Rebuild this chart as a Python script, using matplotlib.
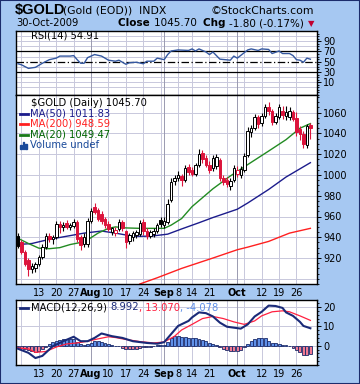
import matplotlib
matplotlib.use("Agg")
import matplotlib.pyplot as plt
import numpy as np
import pandas as pd
from matplotlib.lines import Line2D
from matplotlib.patches import Rectangle

W, H = 360, 384

# ---------------- data ----------------
dates = [d for d in pd.bdate_range("2009-07-02", "2009-10-30")
         if d.strftime("%Y-%m-%d") not in ("2009-07-03", "2009-09-07")]

opens = [941, 935, 926, 918, 909, 910, 914, 921, 931, 941, 938, 940, 953, 950, 954, 950, 951, 955, 940, 934,
         934, 956, 969, 966, 962, 958, 953, 945, 944, 948, 955, 946, 936, 940, 942, 943, 955, 946, 941, 943,
         946, 957, 952, 955, 976, 994, 997, 999, 995, 1008, 1005, 1001, 1010, 1021, 1016, 1010, 1007, 1009, 1014, 997,
         995, 989, 995, 1001, 1000, 1005, 1019, 1041, 1045, 1056, 1050, 1057, 1065, 1062, 1051, 1056, 1062, 1057, 1056, 1061,
         1055, 1044, 1039, 1029, 1048]
highs = [944, 937, 928, 920, 915, 916, 923, 934, 944, 944, 942, 956, 956, 955, 957, 954, 958, 957, 942, 944,
         959, 968, 973, 968, 965, 960, 956, 950, 950, 958, 957, 947, 944, 946, 947, 957, 958, 949, 947, 949,
         954, 960, 960, 977, 997, 1000, 1004, 1001, 1010, 1011, 1008, 1012, 1025, 1024, 1019, 1013, 1019, 1020, 1016, 1000,
         998, 997, 1010, 1009, 1009, 1021, 1046, 1048, 1059, 1058, 1060, 1068, 1070, 1064, 1060, 1068, 1066, 1066, 1065, 1063,
         1061, 1047, 1042, 1049, 1050]
lows = [930, 924, 912, 903, 906, 907, 912, 919, 929, 935, 934, 938, 944, 946, 948, 947, 949, 935, 928, 931,
        931, 954, 962, 956, 953, 949, 946, 942, 941, 946, 946, 930, 934, 936, 939, 941, 942, 938, 939, 940,
        944, 950, 949, 953, 974, 990, 994, 989, 993, 1000, 999, 999, 1008, 1012, 1008, 1002, 1004, 1006, 994, 990,
        988, 986, 993, 998, 997, 1003, 1017, 1037, 1043, 1045, 1047, 1055, 1058, 1048, 1049, 1054, 1054, 1053, 1053, 1052,
        1038, 1034, 1026, 1026, 1035]
closes = [932, 926, 914, 909, 912, 914, 921, 931, 941, 938, 940, 953, 950, 952, 950, 952, 955, 938, 933, 940,
          956, 965, 964, 958, 956, 952, 948, 949, 947, 955, 949, 935, 942, 944, 945, 954, 946, 941, 945, 946,
          952, 953, 956, 972, 993, 997, 1000, 995, 1007, 1003, 1001, 1010, 1020, 1015, 1010, 1005, 1016, 1017, 997, 993,
          991, 994, 1007, 1005, 1006, 1018, 1042, 1045, 1056, 1049, 1057, 1065, 1062, 1051, 1057, 1065, 1058, 1061, 1062, 1054,
          1041, 1039, 1030, 1047.5, 1045.7]

ma20_days = [0, 3, 6, 9, 12, 15, 18, 20, 23, 26, 28, 31, 35, 39, 42, 44, 47, 50, 56, 61, 66, 72, 77, 81, 84]
ma20_vals = [939, 934, 929.5, 929, 930, 933, 935, 937.5, 944, 948.6, 950, 949, 948.6, 948.6, 948.6, 951.7, 958,
             969.5, 986.7, 999, 1010, 1023, 1034, 1045, 1049.47]
ma50_days = [0, 4, 9, 14, 19, 24, 28, 33, 38, 43, 47, 52, 56, 63, 66, 72, 77, 84]
ma50_vals = [933, 934, 938, 941, 944, 946, 944, 941, 941, 943, 948, 954, 959, 967, 973, 986, 998, 1011.83]
ma200_days = [35, 40, 47, 56, 63, 66, 72, 78, 84]
ma200_vals = [895, 901, 910, 920, 928, 930.5, 936, 944, 948.59]

rsi_days = [0, 1, 3, 5, 7, 9, 11, 12, 15, 16, 17, 18, 19, 20, 22, 24, 26, 28, 29, 31, 32, 34, 36, 37, 39, 40, 42, 43,
            44, 46, 49, 50, 51, 52, 54, 55, 56, 58, 61, 62, 63, 66, 67, 69, 70, 72, 73, 75, 76, 78, 79, 80, 81, 82, 83, 84]
rsi_vals = [46, 44, 37, 39, 47, 54, 57, 61, 61, 62, 54, 47, 47, 58, 64, 61, 53, 51, 53, 45, 48, 49, 46, 51, 51, 57, 54,
            64, 71, 73, 72, 75, 71, 75, 69, 64, 69, 55, 53, 61, 57, 73, 75, 72, 75, 74, 66, 71, 66, 66, 62, 54, 53, 49, 57, 54.91]

macd_days = [0, 3, 5, 7, 10, 13, 16, 18, 20, 22, 24, 27, 30, 33, 37, 40, 42, 44, 46, 49, 50, 52, 54, 56, 58, 60, 62,
             64, 66, 68, 70, 72, 74, 76, 77, 79, 81, 82, 84]
macd_vals = [-1.6, -3.7, -6.4, -5.3, -0.3, 2.3, 4.6, 2.3, 2.3, 4.0, 6.3, 4.9, 4.0, 2.3, 1.4, 1.0, 1.8, 6.0, 10.2, 12.8,
             14.6, 17.2, 16.8, 15.1, 11.9, 9.8, 9.3, 8.8, 11.0, 15.1, 17.5, 20.7, 20.5, 19.5, 17.2, 15.4, 12.3, 10.2, 8.992]
signal_days = [0, 3, 5, 8, 11, 14, 17, 20, 23, 26, 28, 31, 35, 39, 42, 45, 47, 50, 53, 56, 59, 62, 65, 68, 70, 73,
               76, 78, 81, 84]
signal_vals = [-1.2, -1.7, -3.5, -3.0, -0.7, 0.9, 1.4, 2.3, 3.5, 4.6, 4.2, 3.2, 2.1, 1.4, 1.9, 4.9, 8.1, 11.0, 14.0,
               15.1, 14.0, 12.3, 11.0, 12.8, 15.4, 17.5, 18.0, 17.5, 15.4, 13.07]
hist_vals = [-0.5, -1.2, -1.8, -2.5, -3.0, -3.2, -2.6, -1.5, -0.5, 0.8, 1.8, 2.6, 3.1, 3.4, 3.5, 3.4, 3.2, 2.0, 0.8, 0.4,
             0.9, 1.6, 2.2, 2.3, 1.9, 1.2, 0.6, 0.2, -0.3, -0.4, -1.0, -1.6, -1.7, -1.5, -1.5, -1.0, -0.6, -0.8, -0.5, -0.2,
             0.2, 0.1, 0.4, 1.8, 3.8, 5.2, 5.0, 4.6, 4.3, 4.1, 4.0, 3.9, 3.6, 2.9, 2.2, 1.5, 1.0, 0.2, -0.8, -1.8,
             -2.5, -3.0, -2.9, -2.8, -2.0, -0.8, 1.0, 2.3, 3.3, 3.8, 3.9, 3.7, 2.6, 1.5, 1.2, 0.8, 0.4, 0.1, -0.4, -1.0,
             -2.3, -3.3, -4.6, -4.8, -4.1]

tick_dates = ["2009-07-13", "2009-07-20", "2009-07-27", "2009-08-03", "2009-08-10", "2009-08-17", "2009-08-24",
              "2009-09-01", "2009-09-08", "2009-09-14", "2009-09-21", "2009-10-01", "2009-10-12", "2009-10-19",
              "2009-10-26"]
tick_labels = ["13", "20", "27", "Aug", "10", "17", "24", "Sep", "8", "14", "21", "Oct", "12", "19", "26"]
month_labels = ["Aug", "Sep", "Oct"]
extra_grid_dates = ["2009-07-06", "2009-08-31", "2009-09-28", "2009-10-05"]

# ---------------- style ----------------
BG = "#a6c8f2"
GRID = "#c8c8dc"
MGRID = "#9a9ab0"
RED = "#dc143c"
NAVY = "#1c1c8c"

date_str = [d.strftime("%Y-%m-%d") for d in dates]
xpos = np.arange(len(dates))
tick_pos = [date_str.index(t) for t in tick_dates]
grid_pos = tick_pos + [date_str.index(t) for t in extra_grid_dates]
month_pos = [p for p, l in zip(tick_pos, tick_labels) if l in month_labels]

fig = plt.figure(figsize=(W / 100, H / 100), dpi=100, facecolor=BG)
plt.rcParams["font.family"] = ["DejaVu Sans"]


def rect(x0, y0, x1, y1):
    return [x0 / W, 1 - y1 / H, (x1 - x0) / W, (y1 - y0) / H]


XL = (-0.57, 85.9)


def base(ax, ylim, yticks, hgrid, minor_step):
    ax.set_xlim(*XL)
    ax.set_ylim(*ylim)
    ax.set_facecolor("white")
    for s in ax.spines.values():
        s.set_color("black")
        s.set_linewidth(1.0)
    ax.yaxis.tick_right()
    ax.set_yticks(yticks)
    ax.set_yticklabels([str(t) for t in yticks], fontsize=7)
    ax.set_yticks(np.arange(ylim[0] - ylim[0] % minor_step, ylim[1], minor_step), minor=True)
    ax.tick_params(axis="y", which="major", direction="out", length=3, width=0.7, pad=1.5)
    ax.tick_params(axis="y", which="minor", direction="out", length=1.5, width=0.6)
    for g in hgrid:
        ax.axhline(g, color=GRID, lw=0.7, zorder=0)
    for p in grid_pos:
        ax.axvline(p, color=MGRID if p in month_pos else GRID, lw=0.7, zorder=0)


def xlabels(ax):
    ax.set_xticks(tick_pos)
    ax.set_xticklabels(tick_labels, fontsize=7)
    ax.tick_params(axis="x", length=0, pad=3)
    for t in ax.get_xticklabels():
        if t.get_text() in month_labels:
            t.set_fontweight("bold")


# RSI panel
ax1 = fig.add_axes(rect(16, 31, 317, 95))
base(ax1, (-15, 110), [10, 30, 50, 70, 90], [0, 10, 20, 40, 60, 80, 90, 100], 5)
ax1.set_xticks([])
ax1.axhline(70, color="black", lw=0.9, zorder=1)
ax1.axhline(30, color="black", lw=0.9, zorder=1)
ax1.axhline(50, color="black", lw=0.9, ls=(0, (6, 2, 1, 2)), zorder=1)
ax1.plot(rsi_days, rsi_vals, color="#3558a0", lw=1.0, zorder=3)

# Price panel
ax2 = fig.add_axes(rect(16, 95, 317, 284))
base(ax2, (897, 1077), list(range(920, 1061, 20)), list(range(900, 1077, 20)), 5)
xlabels(ax2)
ax2.plot(ma200_days, ma200_vals, color="#ff2020", lw=1.0, zorder=2)
ax2.plot(ma50_days, ma50_vals, color=NAVY, lw=1.0, zorder=2)
ax2.plot(ma20_days, ma20_vals, color="#228b22", lw=1.0, zorder=2)
prev = [closes[0]] + closes[:-1]
for i in range(len(closes)):
    o, h, l, c = opens[i], highs[i], lows[i], closes[i]
    col = "black" if c >= prev[i] else RED
    fill = "white" if c > o else col
    ax2.vlines(xpos[i], l, h, color=col, lw=0.8, zorder=4)
    ax2.bar(xpos[i], max(abs(c - o), 0.6), bottom=min(o, c), width=0.72, facecolor=fill,
            edgecolor=col, linewidth=0.7, zorder=5)

# MACD panel
ax3 = fig.add_axes(rect(16, 300, 317, 365))
base(ax3, (-9.7, 23.6), [0, 10, 20], [0, 10, 20], 2)
xlabels(ax3)
hcols = ["#5f90e8" if v >= 0 else "#f07a92" for v in hist_vals]
ax3.bar(xpos, hist_vals, width=0.85, color=hcols, edgecolor="#1a2a6a", linewidth=0.6, zorder=2)
ax3.plot(signal_days, signal_vals, color="#ff2040", lw=0.9, zorder=3)
ax3.plot(macd_days, macd_vals, color="#1a2a78", lw=1.5, zorder=4)

# ---------------- texts ----------------
fig.canvas.draw()
R = fig.canvas.get_renderer()


def chain(x, y, parts, right=None):
    items = []
    for s, c, w, sz in parts:
        t = fig.text(x / W, 1 - y / H, s, color=c, fontweight=w, fontsize=sz, va="center", ha="left")
        items.append(t)
    widths = [t.get_window_extent(renderer=R).width for t in items]
    if right is not None:
        x = right - sum(widths)
    for t, wd in zip(items, widths):
        t.set_x(x / W)
        x += wd


def fline(x0, x1, y, c, lw=2):
    fig.add_artist(Line2D([x0 / W, x1 / W], [1 - y / H] * 2, color=c, lw=lw, transform=fig.transFigure))


fig.text(15 / W, 1 - 10 / H, "$GOLD", fontsize=10.5, fontweight="bold", family="Liberation Sans", va="center")
chain(63, 10.5, [("(Gold (EOD))", "black", "normal", 7.8), ("  INDX", "black", "normal", 7.8)])
chain(0, 10.5, [("\u00a9StockCharts.com", "black", "normal", 7.8)], right=314)
fig.text(16 / W, 1 - 23.5 / H, "30-Oct-2009", fontsize=7.2, va="center")
chain(0, 23.5, [("Close ", "black", "bold", 7.5), ("1045.70  ", "black", "normal", 7.5),
                ("Chg ", "black", "bold", 7.5), ("-1.80 (-0.17%) ", "black", "normal", 7.5),
                ("\u25bc", "#c00030", "normal", 6)], right=314)

chain(31, 35.5, [("RSI(14) 54.91", "black", "normal", 7.2)])
chain(31, 102.5, [("$GOLD (Daily) 1045.70", "black", "normal", 7.2)])
for yy, lab, c, tc in [(113.5, "MA(50) 1011.83", NAVY, NAVY), (124, "MA(200) 948.59", "#ff2020", "#ff2020"),
                       (134.5, "MA(20) 1049.47", "#1a7a1a", "#006400")]:
    fline(20, 28, yy, c)
    chain(30, yy, [(lab, tc, "normal", 7.2)])
chain(30, 145, [("Volume undef", "#1a4a9a", "normal", 7.2)])
for k, hh in enumerate([4, 7, 5]):
    fig.add_artist(Rectangle(((20 + 2.5 * k) / W, 1 - 148.5 / H), 2 / W, hh / H, color="#1a4a9a",
                             transform=fig.transFigure))

fline(20, 28, 307.5, "#1a2a78")
chain(31, 307.5, [("MACD(12,26,9) ", "black", "normal", 7.2), ("8.992", "#1a2a78", "normal", 7.2),
                  (", 13.070", "#ff2040", "normal", 7.2), (", -4.078", "#5f90e8", "normal", 7.2)])

fig.add_artist(Rectangle((0, 0), 1, 1, transform=fig.transFigure, fill=False, edgecolor="#1c2c6c", lw=1.5))

fig.savefig("out.png", dpi=100, facecolor=BG)
